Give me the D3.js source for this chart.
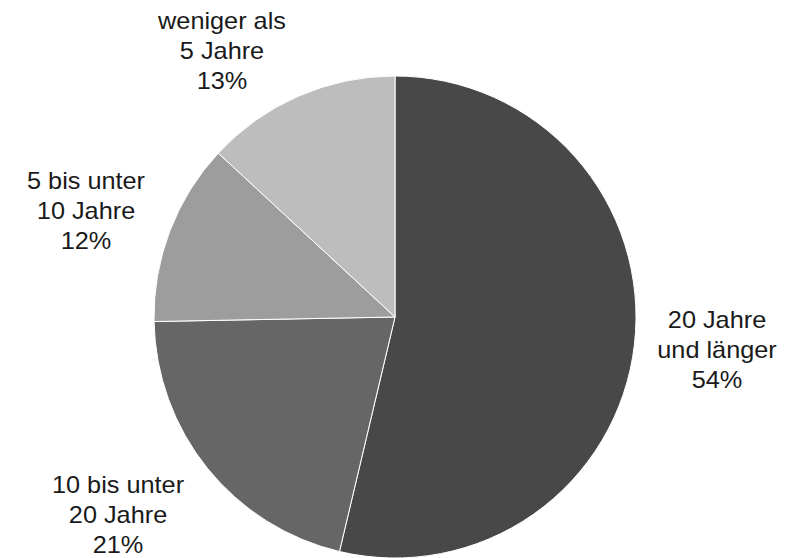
<!DOCTYPE html>
<html><head><meta charset="utf-8">
<script src="https://cdn.jsdelivr.net/npm/d3@7"></script>
<style>html,body{margin:0;padding:0;background:#fff;}svg{display:block;}</style>
</head><body>
<svg id="chart" width="785" height="558"></svg>
<script>
const categories = [["20 Jahre","und länger"],["10 bis unter","20 Jahre"],["5 bis unter","10 Jahre"],["weniger als","5 Jahre"]];
const values = [53.7, 21.0, 12.2, 13.1];
const percentLabels = ["54%","21%","12%","13%"];
const colors = ["#484848","#666666","#9d9d9d","#bdbdbd"];

const W = 785, H = 558;
const cx = 395, cy = 317, r = 241;
// label anchor offsets (first-line baseline) relative to pie centre
const labelPos = [[322, 11], [-277, 176], [-309, -128], [-173, -288]];
const lineH = 30;

const svg = d3.select("#chart");
const g = svg.append("g").attr("transform", `translate(${cx},${cy})`);
const pie = d3.pie().sort(null).value(d => d)(values);
const arc = d3.arc().innerRadius(0).outerRadius(r);

g.selectAll("path").data(pie).join("path")
  .attr("d", arc)
  .attr("fill", (d,i) => colors[i])
  .attr("stroke", "#ffffff")
  .attr("stroke-width", 1);

const lg = g.selectAll("g.lbl").data(pie).join("g").attr("class","lbl")
  .attr("transform", (d,i) => `translate(${labelPos[i][0]},${labelPos[i][1]}) scale(1.1,1)`);
lg.each(function(d,i){
  const lines = categories[i].concat([percentLabels[i]]);
  const t = d3.select(this).append("text")
    .attr("text-anchor","middle")
    .attr("font-family","'Liberation Sans', Arial, sans-serif")
    .attr("font-size", 23)
    .attr("fill","#1a1a1a");
  lines.forEach((s,k) => t.append("tspan").attr("x",0).attr("y", k*lineH).text(s));
});
</script>
</body></html>
